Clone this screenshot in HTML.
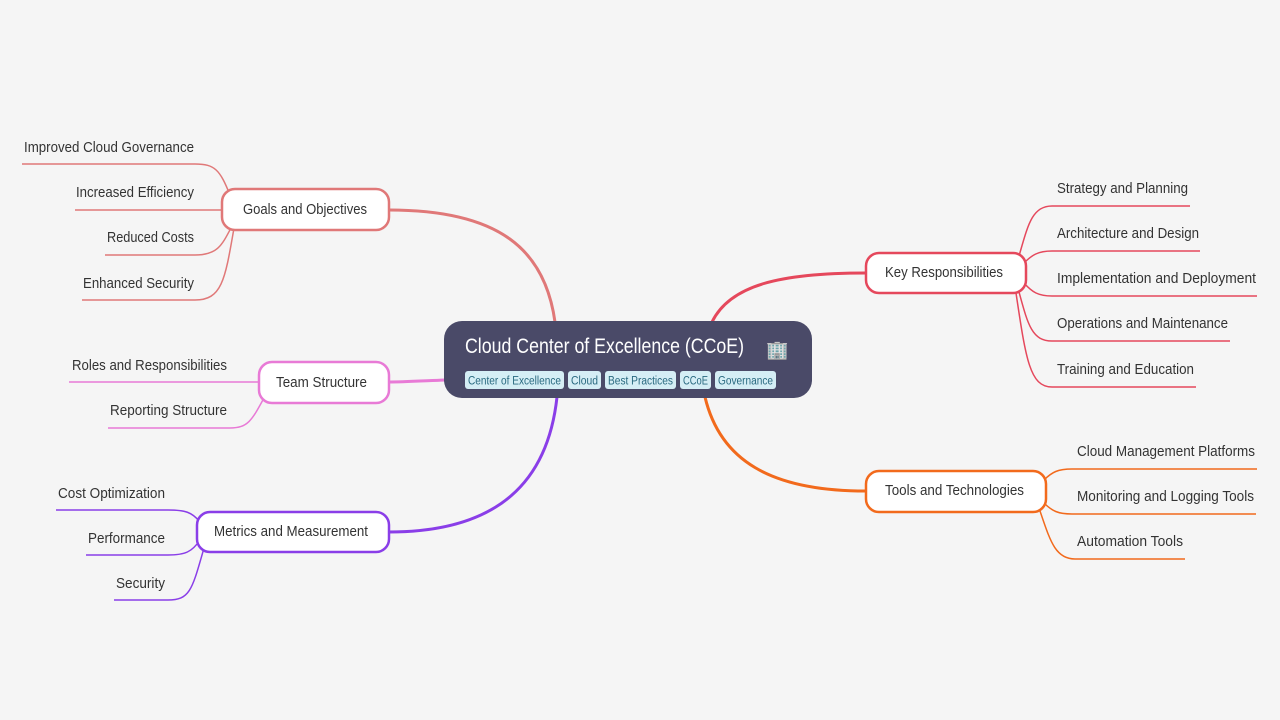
<!DOCTYPE html>
<html><head><meta charset="utf-8"><style>
html,body{margin:0;padding:0;background:#f5f5f5;}
svg{display:block;font-family:"Liberation Sans",sans-serif;}
.l{font-size:15px;fill:#333;}
.n{font-size:15px;fill:#333;}
</style></head><body>
<svg width="1280" height="720" viewBox="0 0 1280 720" xmlns="http://www.w3.org/2000/svg">
<rect width="1280" height="720" fill="#f5f5f5"/>
<g fill="none" stroke-width="3">
<path d="M555,322 C545,250 500,210 389,210" stroke="#e07878"/>
<path d="M712,322 C730,285 780,273 866,273" stroke="#e5485c"/>
<path d="M445,380 C420,381 400,382 389,382" stroke="#e87ad6"/>
<path d="M557,397 C548,480 500,532 389,532" stroke="#8a3ee8"/>
<path d="M705,397 C720,460 770,491 866,491" stroke="#f26a1c"/>
</g>
<g fill="none" stroke-width="1.5">
<g stroke="#e07878">
<path d="M230,195 C220,170 215,164 195,164 H22"/>
<path d="M224,210 H75"/>
<path d="M232,226 C222,245 218,255 195,255 H105"/>
<path d="M234,228 C225,280 222,300 195,300 H82"/>
</g>
<g stroke="#e87ad6">
<path d="M260,382 H69"/>
<path d="M264,398 C252,420 248,428 230,428 H108"/>
</g>
<g stroke="#8a3ee8">
<path d="M200,522 C192,512 185,510 168,510 H56"/>
<path d="M200,540 C192,552 185,555 168,555 H86"/>
<path d="M204,548 C192,590 190,600 168,600 H114"/>
</g>
<g stroke="#e5485c">
<path d="M1019,256 C1028,225 1032,206 1052,206 H1190"/>
<path d="M1024,263 C1032,255 1038,251 1052,251 H1200"/>
<path d="M1024,283 C1032,292 1038,296 1052,296 H1257"/>
<path d="M1019,292 C1028,325 1032,341 1052,341 H1230"/>
<path d="M1016,293 C1026,360 1030,387 1052,387 H1196"/>
</g>
<g stroke="#f26a1c">
<path d="M1044,480 C1052,472 1058,469 1072,469 H1257"/>
<path d="M1044,503 C1052,511 1058,514 1072,514 H1256"/>
<path d="M1040,511 C1050,540 1055,559 1075,559 H1185"/>
</g>
</g>
<rect x="444" y="321" width="368" height="77" rx="18" fill="#4a4a68"/>
<text x="465" y="353" font-size="21" fill="#fff" textLength="279" lengthAdjust="spacingAndGlyphs">Cloud Center of Excellence (CCoE)</text>
<text x="766" y="356" font-size="18" fill="#9ab">🏢</text>
<g font-size="11.5" fill="#2a6a80">
<rect x="465" y="371" width="99" height="18" rx="3" fill="#d5eef5"/><text x="468" y="384.5" textLength="93" lengthAdjust="spacingAndGlyphs">Center of Excellence</text>
<rect x="568" y="371" width="33" height="18" rx="3" fill="#d5eef5"/><text x="571" y="384.5" textLength="27" lengthAdjust="spacingAndGlyphs">Cloud</text>
<rect x="605" y="371" width="71" height="18" rx="3" fill="#d5eef5"/><text x="608" y="384.5" textLength="65" lengthAdjust="spacingAndGlyphs">Best Practices</text>
<rect x="680" y="371" width="31" height="18" rx="3" fill="#d5eef5"/><text x="683" y="384.5" textLength="25" lengthAdjust="spacingAndGlyphs">CCoE</text>
<rect x="715" y="371" width="61" height="18" rx="3" fill="#d5eef5"/><text x="718" y="384.5" textLength="55" lengthAdjust="spacingAndGlyphs">Governance</text>
</g>
<g fill="#fff" stroke-width="2.5">
<rect x="222" y="189" width="167" height="41" rx="13" stroke="#e07878"/>
<rect x="259" y="362" width="130" height="41" rx="13" stroke="#e87ad6"/>
<rect x="197" y="512" width="192" height="40" rx="13" stroke="#8a3ee8"/>
<rect x="866" y="253" width="160" height="40" rx="13" stroke="#e5485c"/>
<rect x="866" y="471" width="180" height="41" rx="13" stroke="#f26a1c"/>
</g>
<g class="n">
<text x="243" y="214" textLength="124" lengthAdjust="spacingAndGlyphs">Goals and Objectives</text>
<text x="276" y="387" textLength="91" lengthAdjust="spacingAndGlyphs">Team Structure</text>
<text x="214" y="536" textLength="154" lengthAdjust="spacingAndGlyphs">Metrics and Measurement</text>
<text x="885" y="277" textLength="118" lengthAdjust="spacingAndGlyphs">Key Responsibilities</text>
<text x="885" y="495" textLength="139" lengthAdjust="spacingAndGlyphs">Tools and Technologies</text>
</g>
<g class="l">
<text x="24" y="152" textLength="170" lengthAdjust="spacingAndGlyphs">Improved Cloud Governance</text>
<text x="76" y="197" textLength="118" lengthAdjust="spacingAndGlyphs">Increased Efficiency</text>
<text x="107" y="242" textLength="87" lengthAdjust="spacingAndGlyphs">Reduced Costs</text>
<text x="83" y="288" textLength="111" lengthAdjust="spacingAndGlyphs">Enhanced Security</text>
<text x="72" y="370" textLength="155" lengthAdjust="spacingAndGlyphs">Roles and Responsibilities</text>
<text x="110" y="415" textLength="117" lengthAdjust="spacingAndGlyphs">Reporting Structure</text>
<text x="58" y="498" textLength="107" lengthAdjust="spacingAndGlyphs">Cost Optimization</text>
<text x="88" y="543" textLength="77" lengthAdjust="spacingAndGlyphs">Performance</text>
<text x="116" y="588" textLength="49" lengthAdjust="spacingAndGlyphs">Security</text>
<text x="1057" y="193" textLength="131" lengthAdjust="spacingAndGlyphs">Strategy and Planning</text>
<text x="1057" y="238" textLength="142" lengthAdjust="spacingAndGlyphs">Architecture and Design</text>
<text x="1057" y="283" textLength="199" lengthAdjust="spacingAndGlyphs">Implementation and Deployment</text>
<text x="1057" y="328" textLength="171" lengthAdjust="spacingAndGlyphs">Operations and Maintenance</text>
<text x="1057" y="374" textLength="137" lengthAdjust="spacingAndGlyphs">Training and Education</text>
<text x="1077" y="456" textLength="178" lengthAdjust="spacingAndGlyphs">Cloud Management Platforms</text>
<text x="1077" y="501" textLength="177" lengthAdjust="spacingAndGlyphs">Monitoring and Logging Tools</text>
<text x="1077" y="546" textLength="106" lengthAdjust="spacingAndGlyphs">Automation Tools</text>
</g>
</svg>
</body></html>
